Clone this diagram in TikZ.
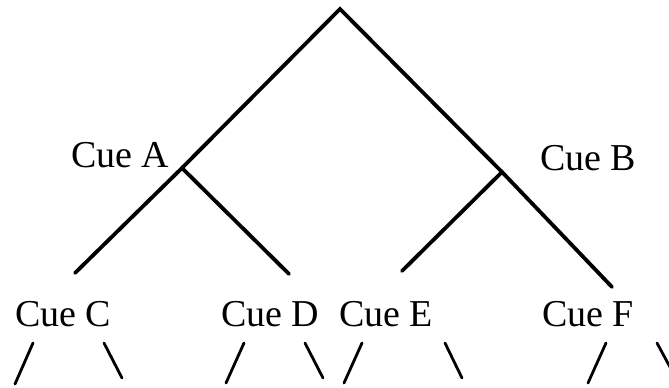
\documentclass[tikz,border=0pt]{standalone}
\usepackage{fontspec}
\setmainfont{Liberation Serif}
\begin{document}
\begin{tikzpicture}[x=1pt,y=-1pt,
  branch/.style={line width=3.8pt, line cap=round},
  twig/.style={line width=2.8pt, line cap=round},
  cue/.style={anchor=base west, inner sep=0pt, font=\fontsize{38}{40}\selectfont}]
\useasboundingbox (0,0) rectangle (669,388);
\clip (0,0) rectangle (669,388);
% tree junctions
\coordinate (root) at (340,9);
\coordinate (ja) at (182,168);
\coordinate (jb) at (502,172);
\coordinate (ac) at (75,273);
\coordinate (ad) at (289,274);
\coordinate (be) at (402,271);
\coordinate (bf) at (612,287);
\draw[branch] (ja) -- (root) -- (jb);
\draw[branch] (ac) -- (ja) -- (ad);
\draw[branch] (be) -- (jb) -- (bf);
% labels
\node[cue] (cueA) at (71,167) {Cue A};
\node[cue] (cueB) at (540,170) {Cue B};
\node[cue] (cueC) at (15,326) {Cue C};
\node[cue] (cueD) at (221,326) {Cue D};
\node[cue] (cueE) at (339,326) {Cue E};
\node[cue] (cueF) at (542,326) {Cue F};
% twigs
\coordinate (c1t) at (33,343);  \coordinate (c1b) at (15,384);
\coordinate (c2t) at (104,343); \coordinate (c2b) at (122,378);
\coordinate (d1t) at (244,343); \coordinate (d1b) at (226,383);
\coordinate (d2t) at (305,343); \coordinate (d2b) at (323,378);
\coordinate (e1t) at (362,343); \coordinate (e1b) at (344,383);
\coordinate (e2t) at (445,343); \coordinate (e2b) at (462,378);
\coordinate (f1t) at (606,343); \coordinate (f1b) at (588,383);
\coordinate (f2t) at (657,343); \coordinate (f2b) at (677,380);
\foreach \a/\b in {c1t/c1b,c2t/c2b,d1t/d1b,d2t/d2b,e1t/e1b,e2t/e2b,f1t/f1b,f2t/f2b}
  \draw[twig] (\a) -- (\b);
\end{tikzpicture}
\end{document}
